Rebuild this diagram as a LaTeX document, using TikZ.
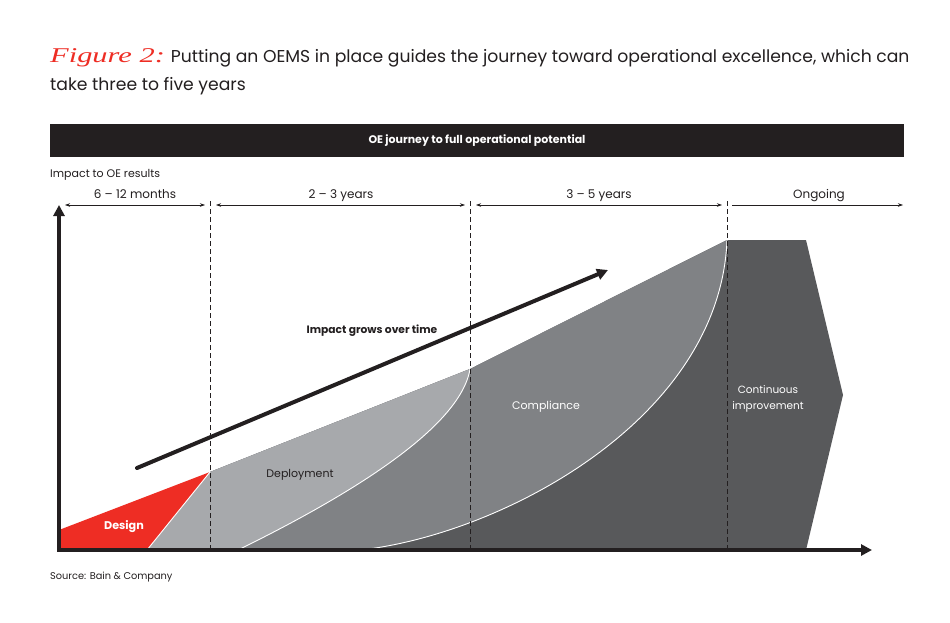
\documentclass[tikz,border=0pt]{standalone}
\usepackage{fontspec}
\setmainfont{Poppins}
\newfontfamily\figfont{Liberation Serif}
\usetikzlibrary{arrows.meta}
\definecolor{ink}{HTML}{231F20}
\definecolor{bainred}{HTML}{EE2D24}
\definecolor{lgray}{HTML}{A7A9AC}
\definecolor{mgray}{HTML}{808285}
\definecolor{dgray}{HTML}{58595B}
\tikzset{
  axisline/.style={line width=4pt, ink, -{Triangle[length=11pt,width=11pt]}},
  rangearrow/.style={line width=0.6pt, ink, {Stealth[length=5pt,width=3.5pt]}-{Stealth[length=5pt,width=3.5pt]}},
  rangeright/.style={line width=0.6pt, ink, -{Stealth[length=5pt,width=3.5pt]}},
  divider/.style={line width=0.7pt, ink, dash pattern=on 5pt off 3pt},
  rangelabel/.style={font=\fontsize{12}{14}\selectfont, text=ink, inner sep=0pt},
  sep/.style={white, line width=0.9pt},
}
\begin{document}
\begin{tikzpicture}[x=1pt,y=-1pt]
\useasboundingbox[fill=white] (0,0) rectangle (950,622);
% title
\node[anchor=base west, inner sep=0pt, text=ink, font=\fontsize{17.2}{21}\selectfont] (title1) at (50,62)
  {{\color{bainred}\scalebox{1.45}[1]{\fontsize{21}{24}\selectfont\figfont\itshape Figure 2:}}\hspace{6pt}Putting an OEMS in place guides the journey toward operational excellence, which can};
\node[anchor=base west, inner sep=0pt, text=ink, font=\fontsize{17.2}{21}\selectfont] (title2) at (50,90) {take three to five years};
% header bar
\fill[ink] (50,124) rectangle (904,157);
\node[text=white, font=\bfseries\fontsize{11}{13}\selectfont, inner sep=0pt] (header) at (477,141) {OE journey to full operational potential};
\node[anchor=base west, inner sep=0pt, text=ink, font=\fontsize{11}{13}\selectfont] (ylabel) at (50,177) {Impact to OE results};
% regions
\coordinate (d0) at (147,550);
\coordinate (d1) at (210,472);
\coordinate (d2) at (470,369);
\coordinate (d3) at (727,240);
\fill[dgray] (d0) -- (d1) -- (d2) -- (d3) -- (806,240) -- (843,395) -- (806,550) -- cycle;
\fill[mgray] (d0) -- (d1) -- (d2) -- (d3) .. controls (720,420) and (500,535) .. (360,550) -- cycle;
\fill[lgray] (d0) -- (d1) -- (d2) .. controls (460,430) and (340,500) .. (238,550) -- cycle;
\fill[bainred] (59,530) -- (d1) -- (d0) -- (59,550) -- cycle;
\draw[sep] (d3) .. controls (720,420) and (500,535) .. (360,550);
\draw[sep] (d2) .. controls (460,430) and (340,500) .. (238,550);
\draw[sep] (d1) -- (d0);
% dividers
\draw[divider] (210,201) -- (210,550);
\draw[divider] (470,201) -- (470,550);
\draw[divider] (727,201) -- (727,550);
% range arrows
\draw[rangearrow] (65,205) -- (205,205);
\draw[rangearrow] (216,205) -- (465,205);
\draw[rangearrow] (476,205) -- (722,205);
\draw[rangeright] (732,205) -- (903,205);
\node[rangelabel, anchor=base] (r1) at (135,198) {6 – 12 months};
\node[rangelabel, anchor=base] (r2) at (341,198) {2 – 3 years};
\node[rangelabel, anchor=base] (r3) at (599,198) {3 – 5 years};
\node[rangelabel, anchor=base] (r4) at (819,198) {Ongoing};
% axes
\coordinate (origin) at (59,550);
\coordinate (ytip) at (59,205);
\coordinate (xstart) at (57,550);
\coordinate (xtip) at (872,550);
\draw[axisline] (xstart) -- (xtip);
\draw[axisline] (origin) -- (ytip);
% impact arrow
\coordinate (ia) at (137,468);
\coordinate (ib) at (608,270);
\draw[line width=4pt, ink, line cap=round, -{Triangle[length=11pt,width=11pt]}] (ia) -- (ib);
\node[font=\bfseries\fontsize{10.7}{13}\selectfont, text=ink, inner sep=0pt] (impact) at (372,331) {Impact grows over time};
% region labels
\node[font=\bfseries\fontsize{11.2}{13}\selectfont, text=white, inner sep=0pt] (design) at (124,527) {Design};
\node[font=\fontsize{11}{13}\selectfont, text=ink, inner sep=0pt] (deploy) at (300,475) {Deployment};
\node[font=\fontsize{11}{13}\selectfont, text=white, inner sep=0pt] (compl) at (546,407) {Compliance};
\node[font=\fontsize{10.5}{16}\selectfont, text=white, inner sep=0pt, align=center] (cont) at (768,399) {Continuous\\improvement};
\node[anchor=base west, inner sep=0pt, text=ink, font=\fontsize{9.8}{12}\selectfont] (source) at (50,579) {Source: Bain \& Company};
\end{tikzpicture}
\end{document}
